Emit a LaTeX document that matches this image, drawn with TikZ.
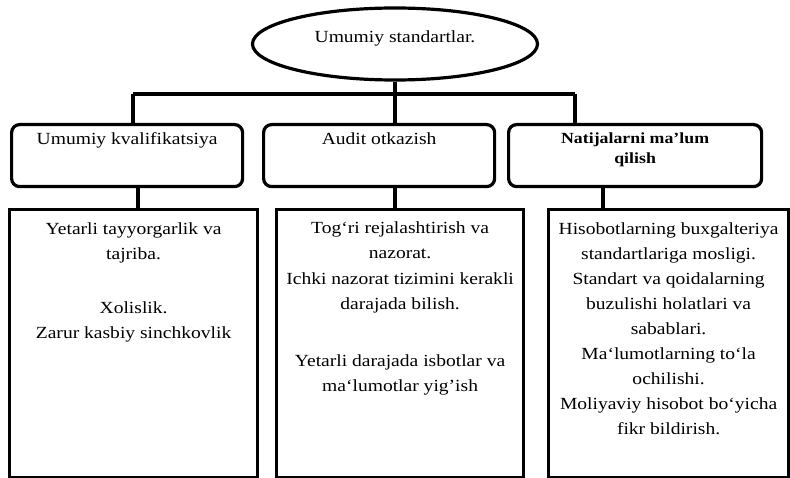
\documentclass[tikz,border=0pt]{standalone}
\usepackage{fontspec}
\setmainfont{Liberation Serif}[FakeStretch=1.15]
\usetikzlibrary{shapes.geometric}
\tikzset{
  line/.style={line width=3.2pt},
  ellbox/.style={ellipse, draw, line width=3.2pt, minimum width=285pt, minimum height=72pt, inner sep=0pt},
  midbox/.style={draw, line width=3.2pt, rounded corners=8pt, inner sep=0pt, anchor=north west},
  lowbox/.style={draw, line width=3.2pt, inner sep=0pt, anchor=north west},
}
\newcommand{\txt}{\fontsize{17}{25.4}\selectfont}
\begin{document}
\begin{tikzpicture}[x=1pt,y=-1pt]
\useasboundingbox (0,0) rectangle (790,478);
% top ellipse
\node[ellbox] (top) at (395,44) {\txt\raisebox{14pt}{Umumiy standartlar.}};
% middle boxes
\node[midbox] (m1) at (10,123) {\parbox[t][62pt][t]{231pt}{\centering\txt\rule{0pt}{20pt}Umumiy kvalifikatsiya}};
\node[midbox] (m2) at (262,123) {\parbox[t][62pt][t]{231pt}{\centering\txt\rule{0pt}{20pt}Audit otkazish}};
\node[midbox] (m3) at (507,123) {\parbox[t][62pt][t]{253pt}{\centering\fontsize{15.5}{20}\selectfont\bfseries\rule{0pt}{19pt}Natijalarni ma’lum\\qilish}};
% lower boxes
\node[lowbox] (b1) at (8,208) {\parbox[t][268pt][t]{248pt}{\centering\txt\rule{0pt}{25pt}Yetarli tayyorgarlik va\\tajriba.\\[28pt]Xolislik.\\Zarur kasbiy sinchkovlik}};
\node[lowbox] (b2) at (275,208) {\parbox[t][268pt][t]{247pt}{\centering\txt\rule{0pt}{24pt}Tog‘ri rejalashtirish va\\nazorat.\\Ichki nazorat tizimini kerakli\\darajada bilish.\\[31pt]Yetarli darajada isbotlar va\\ma‘lumotlar yig’ish}};
\node[lowbox] (b3) at (547,208) {\parbox[t][268pt][t]{240pt}{\centering\fontsize{17}{25}\selectfont\rule{0pt}{25pt}Hisobotlarning buxgalteriya\\standartlariga mosligi.\\Standart va qoidalarning\\buzulishi holatlari va\\sabablari.\\Ma‘lumotlarning to‘la\\ochilishi.\\Moliyaviy hisobot bo‘yicha\\fikr bildirish.}};
% junction points
\coordinate (jc) at (395,94);
\coordinate (j1) at (133,94);
\coordinate (j3) at (575,94);
\coordinate (k1) at (138,0);
\coordinate (k2) at (395,0);
\coordinate (k3) at (603,0);
% connectors
\draw[line] (top.south) -- (jc);
\draw[line] (j1) -- (j3);
\draw[line] (j1) -- (j1 |- m1.north);
\draw[line] (jc) -- (jc |- m2.north);
\draw[line] (j3) -- (j3 |- m3.north);
\draw[line] (k1 |- m1.south) -- (k1 |- b1.north);
\draw[line] (k2 |- m2.south) -- (k2 |- b2.north);
\draw[line] (k3 |- m3.south) -- (k3 |- b3.north);
\end{tikzpicture}
\end{document}
